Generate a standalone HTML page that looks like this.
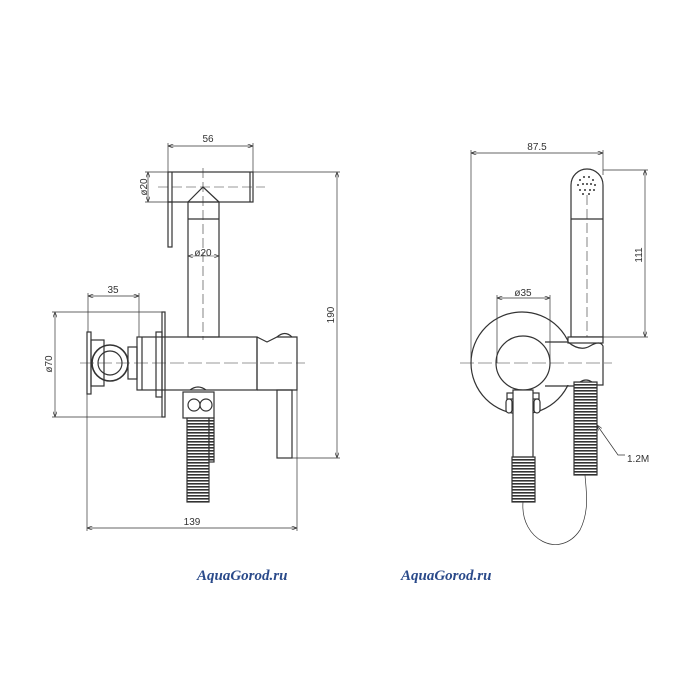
<!DOCTYPE html>
<html><head><meta charset="utf-8"><style>
html,body{margin:0;padding:0;background:#fff;}
svg{display:block;}
text{font-family:"Liberation Sans",sans-serif;fill:#333;}
</style></head><body>
<svg width="700" height="700" viewBox="0 0 700 700" xmlns="http://www.w3.org/2000/svg">
<defs>
<pattern id="h" width="4" height="3" patternUnits="userSpaceOnUse"><rect width="4" height="3" fill="#fff"/><rect y="0" width="4" height="1.6" fill="#333"/></pattern>
<marker id="a" markerWidth="8" markerHeight="6" refX="8" refY="3" orient="auto-start-reverse"><path d="M0,0 L8,3 L0,6" fill="none" stroke="#333" stroke-width="1"/></marker>
</defs>
<g fill="none" stroke="#333" stroke-width="1.2">
<!-- LEFT -->
<line x1="168" y1="146" x2="253" y2="146" marker-start="url(#a)" marker-end="url(#a)" stroke-width="0.7"/>
<line x1="168" y1="143" x2="168" y2="172" stroke-width="0.7"/>
<line x1="253" y1="143" x2="253" y2="172" stroke-width="0.7"/>
<rect x="168" y="172" width="85" height="30"/>
<line x1="250" y1="172" x2="250" y2="202"/>
<line x1="172" y1="172" x2="172" y2="202"/>
<rect x="168" y="202" width="4" height="45"/>
<path d="M188,202 L203,187 L219,202"/>
<line x1="158" y1="187" x2="265" y2="187" stroke-dasharray="10,4" stroke-width="0.6"/>
<line x1="203" y1="168" x2="203" y2="340" stroke-dasharray="10,4" stroke-width="0.6"/>
<rect x="188" y="202" width="31" height="135"/>
<line x1="188" y1="219" x2="219" y2="219"/>
<line x1="188" y1="256" x2="219" y2="256" marker-start="url(#a)" marker-end="url(#a)" stroke-width="0.6"/>
<line x1="148" y1="172" x2="148" y2="202" marker-start="url(#a)" marker-end="url(#a)" stroke-width="0.7"/>
<line x1="145" y1="172" x2="168" y2="172" stroke-width="0.7"/>
<line x1="145" y1="202" x2="168" y2="202" stroke-width="0.7"/>
<!-- body -->
<rect x="162" y="312" width="3" height="105"/>
<rect x="156" y="332" width="6" height="65"/>
<rect x="137" y="337" width="120" height="53"/>
<line x1="142" y1="337" x2="142" y2="390"/>
<path d="M257,337 L267,342 L277,337 L297,337 L297,390 L257,390"/>
<line x1="257" y1="337" x2="257" y2="390"/>
<path d="M277,337 Q285,330 292,337"/>
<rect x="277" y="390" width="15" height="68"/>
<!-- left fitting -->
<rect x="87" y="332" width="4" height="62"/>
<rect x="91" y="340" width="13" height="46"/>
<circle cx="110" cy="363" r="18" stroke-width="1.6"/>
<circle cx="110" cy="363" r="12"/>
<rect x="128" y="347" width="9" height="32"/>
<line x1="80" y1="363" x2="305" y2="363" stroke-dasharray="14,4" stroke-width="0.6"/>
<line x1="55" y1="312" x2="55" y2="417" marker-start="url(#a)" marker-end="url(#a)" stroke-width="0.7"/>
<line x1="52" y1="312" x2="162" y2="312" stroke-width="0.7"/>
<line x1="52" y1="417" x2="162" y2="417" stroke-width="0.7"/>
<line x1="88" y1="296" x2="139" y2="296" marker-start="url(#a)" marker-end="url(#a)" stroke-width="0.7"/>
<line x1="139" y1="293" x2="139" y2="337" stroke-width="0.7"/>
<line x1="88" y1="293" x2="88" y2="332" stroke-width="0.7"/>
<!-- connector + hose -->
<path d="M190,390 Q198,384 206,390"/>
<rect x="183" y="392" width="31" height="26"/>
<circle cx="194" cy="405" r="6"/>
<circle cx="206" cy="405" r="6"/>
<rect x="187" y="418" width="22" height="84" fill="url(#h)"/>
<rect x="209" y="418" width="5" height="44" fill="url(#h)"/>
<!-- 190 -->
<line x1="337" y1="172" x2="337" y2="458" marker-start="url(#a)" marker-end="url(#a)" stroke-width="0.7"/>
<line x1="253" y1="172" x2="340" y2="172" stroke-width="0.7"/>
<line x1="292" y1="458" x2="340" y2="458" stroke-width="0.7"/>
<!-- 139 -->
<line x1="87" y1="528" x2="297" y2="528" marker-start="url(#a)" marker-end="url(#a)" stroke-width="0.7"/>
<line x1="87" y1="394" x2="87" y2="531" stroke-width="0.7"/>
<line x1="297" y1="390" x2="297" y2="531" stroke-width="0.7"/>

<!-- RIGHT -->
<line x1="471" y1="153" x2="603" y2="153" marker-start="url(#a)" marker-end="url(#a)" stroke-width="0.7"/>
<line x1="471" y1="150" x2="471" y2="363" stroke-width="0.7"/>
<line x1="603" y1="150" x2="603" y2="175" stroke-width="0.7"/>
<circle cx="522" cy="363" r="51"/>
<path d="M571,185 A16,16 0 0 1 603,185 L603,337 L571,337 Z"/>
<line x1="571" y1="219" x2="603" y2="219"/>
<line x1="587" y1="195" x2="587" y2="380" stroke-dasharray="10,4" stroke-width="0.6"/>
<g fill="#333" stroke="none">
<circle cx="580" cy="180" r="1"/><circle cx="584" cy="177" r="1"/><circle cx="589" cy="177" r="1"/><circle cx="593" cy="180" r="1"/>
<circle cx="578" cy="185" r="1"/><circle cx="583" cy="184" r="1"/><circle cx="587" cy="184" r="1"/><circle cx="591" cy="184" r="1"/><circle cx="595" cy="185" r="1"/>
<circle cx="580" cy="190" r="1"/><circle cx="585" cy="190" r="1"/><circle cx="590" cy="190" r="1"/><circle cx="594" cy="190" r="1"/>
<circle cx="583" cy="194" r="1"/><circle cx="589" cy="194" r="1"/>
</g>
<line x1="645" y1="170" x2="645" y2="337" marker-start="url(#a)" marker-end="url(#a)" stroke-width="0.7"/>
<line x1="603" y1="170" x2="648" y2="170" stroke-width="0.7"/>
<line x1="603" y1="337" x2="648" y2="337" stroke-width="0.7"/>
<path d="M545,342 L568,342 L568,337 L603,337 L603,385 L545,385 Z" fill="#fff" stroke="none"/>
<rect x="568" y="337" width="35" height="6"/>
<path d="M545,342 L568,342 Q580,352 590,346 Q600,340 603,346 L603,385 L574,385"/>
<line x1="545" y1="386" x2="574" y2="386"/>
<circle cx="523" cy="363" r="27" fill="#fff"/>
<line x1="460" y1="363" x2="612" y2="363" stroke-dasharray="14,4" stroke-width="0.6"/>
<line x1="497" y1="298" x2="550" y2="298" marker-start="url(#a)" marker-end="url(#a)" stroke-width="0.7"/>
<line x1="497" y1="295" x2="497" y2="363" stroke-width="0.7"/>
<line x1="550" y1="295" x2="550" y2="363" stroke-width="0.7"/>
<rect x="507" y="393" width="32" height="6" fill="#fff"/>
<rect x="506" y="399" width="6" height="14" rx="3" fill="#fff"/>
<rect x="534" y="399" width="6" height="14" rx="3" fill="#fff"/>
<rect x="513" y="390" width="20" height="67" fill="#fff"/>
<rect x="512" y="457" width="23" height="45" fill="url(#h)"/>
<path d="M580,382 Q586,378 592,382"/>
<rect x="574" y="382" width="23" height="93" fill="url(#h)"/>
<path d="M523,502 C520,540 560,560 580,530 C590,510 586,490 585,475" stroke-width="0.7"/>
<path d="M597,425 L618,455 L625,455" stroke-width="0.7" marker-start="url(#a)"/>
</g>
<g font-size="10">
<text x="208" y="142" text-anchor="middle">56</text>
<text x="203" y="256" text-anchor="middle">ø20</text>
<text x="113" y="293" text-anchor="middle">35</text>
<text x="192" y="525" text-anchor="middle">139</text>
<text transform="translate(147,187) rotate(-90)" text-anchor="middle">ø20</text>
<text transform="translate(52,364) rotate(-90)" text-anchor="middle">ø70</text>
<text transform="translate(334,315) rotate(-90)" text-anchor="middle">190</text>
<text x="537" y="150" text-anchor="middle">87.5</text>
<text x="523" y="296" text-anchor="middle">ø35</text>
<text transform="translate(642,255) rotate(-90)" text-anchor="middle">111</text>
<text x="627" y="462">1.2M</text>
</g>
<text x="197" y="580" style="fill:#2a4a8a;font-family:'Liberation Serif',serif;font-weight:bold;font-style:italic;font-size:15px">AquaGorod.ru</text>
<text x="401" y="580" style="fill:#2a4a8a;font-family:'Liberation Serif',serif;font-weight:bold;font-style:italic;font-size:15px">AquaGorod.ru</text>
</svg>
</body></html>
